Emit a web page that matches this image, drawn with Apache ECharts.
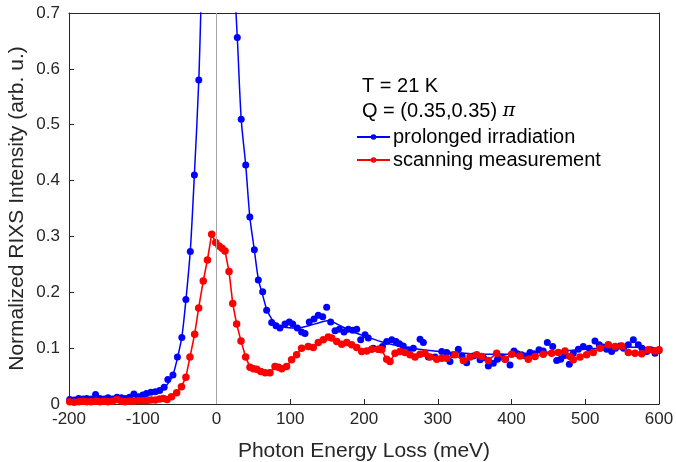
<!DOCTYPE html>
<html>
<head>
<meta charset="utf-8">
<script src="https://cdn.jsdelivr.net/npm/echarts@6/dist/echarts.min.js"></script>
<style>
  html, body { margin: 0; padding: 0; background: #fff; }
  #chart { width: 676px; height: 462px; }
</style>
</head>
<body>
<div id="chart"></div>
<script>
// RIXS spectra, x in meV, y normalized intensity
const xTicks = { min: -200, max: 600, step: 100 };
const yTicks = { min: 0, max: 0.7, step: 0.1 };

// prolonged irradiation: measured points
const bluePoints = [
  [-199, 0.008], [-193, 0.007], [-187, 0.010], [-181, 0.009], [-176, 0.010], [-170, 0.009],
  [-164, 0.017], [-158, 0.010], [-152, 0.009], [-147, 0.011], [-141, 0.009], [-135, 0.012],
  [-129, 0.011], [-124, 0.010], [-118, 0.012], [-112, 0.018], [-106, 0.013], [-100, 0.016],
  [-95, 0.019], [-89, 0.021], [-83, 0.022], [-77, 0.024], [-71, 0.030], [-66, 0.044],
  [-59, 0.052], [-53, 0.084], [-47, 0.119], [-41.5, 0.187], [-35.5, 0.273], [-30, 0.41],
  [-24, 0.58], [-18.3, 0.83], [-12.5, 0.95], [-6.7, 1.0], [-0.9, 1.0], [4.9, 0.98],
  [10.7, 0.93], [16.5, 0.87], [22.4, 0.79], [28.2, 0.656], [33.5, 0.51], [39.6, 0.428],
  [45.2, 0.335], [51.3, 0.276], [56.7, 0.222], [62.6, 0.201], [68, 0.168], [74.8, 0.146],
  [80.7, 0.14], [86.1, 0.136], [92.9, 0.143], [98.7, 0.147], [103.3, 0.143], [109.6, 0.136],
  [115.4, 0.129], [120, 0.126], [125.8, 0.147], [132.2, 0.152], [138, 0.159], [144, 0.156],
  [149.4, 0.173], [154.8, 0.147], [160.7, 0.131], [166.5, 0.134], [172.9, 0.129], [178.7, 0.134],
  [184.7, 0.132], [190.1, 0.134], [195.5, 0.115], [201.4, 0.124], [205.8, 0.118], [212.6, 0.1],
  [219.4, 0.098], [225, 0.103], [230.8, 0.112], [237.6, 0.115], [243.4, 0.112], [248, 0.108],
  [253.3, 0.104], [260.1, 0.097], [266.9, 0.1], [276, 0.116], [280.5, 0.11], [287.3, 0.084],
  [296.3, 0.084], [305.4, 0.094], [312.2, 0.092], [316.6, 0.076], [321, 0.088], [327.9, 0.098],
  [333, 0.086], [339.2, 0.074], [348.2, 0.086], [357.3, 0.079], [362, 0.083], [368.6, 0.068],
  [375.4, 0.073], [381, 0.08], [386.7, 0.084], [392, 0.08], [398, 0.07], [403.4, 0.095],
  [408, 0.09], [413.8, 0.088], [419, 0.086], [425.1, 0.092], [431, 0.09], [437.3, 0.097],
  [443, 0.095], [448.6, 0.11], [455.9, 0.103], [461.3, 0.078], [466.7, 0.08], [472, 0.087],
  [478.4, 0.071], [483.8, 0.091], [490.6, 0.098], [497.3, 0.103], [505.5, 0.1], [513.2, 0.113],
  [519, 0.106], [524, 0.102], [529, 0.098], [535.8, 0.094], [541, 0.1], [547.1, 0.104],
  [552, 0.1], [558.4, 0.106], [565.2, 0.115], [572, 0.106], [577, 0.1], [583.3, 0.094],
  [589, 0.097], [594.6, 0.091], [600, 0.096]
];

// prolonged irradiation: fitted curve
const blueFit = [
  [-200, 0.007], [-170, 0.009], [-140, 0.011], [-110, 0.014], [-90, 0.018], [-78, 0.023],
  [-70, 0.03], [-64, 0.04], [-59, 0.052], [-53, 0.082], [-47, 0.12], [-41.5, 0.186],
  [-35.5, 0.275], [-30, 0.41], [-24, 0.58], [-18.3, 0.83], [-12.5, 0.95], [-6.7, 1.0],
  [-0.9, 1.0], [4.9, 0.98], [10.7, 0.93], [16.5, 0.87], [22.4, 0.79], [28.2, 0.656],
  [33.5, 0.51], [39.6, 0.428], [45.2, 0.335], [51.3, 0.276], [56.7, 0.224], [62.6, 0.195],
  [68, 0.17], [75, 0.152], [85, 0.14], [95, 0.137], [110, 0.136], [125, 0.14],
  [140, 0.146], [152, 0.149], [165, 0.142], [180, 0.132], [200, 0.122], [225, 0.111],
  [250, 0.103], [280, 0.097], [320, 0.092], [360, 0.089], [400, 0.089], [450, 0.093],
  [500, 0.098], [550, 0.102], [600, 0.1]
];

// scanning measurement
const redPoints = [
  [-199, 0.004], [-193, 0.003], [-187, 0.004], [-181, 0.005], [-176, 0.004], [-170, 0.004],
  [-164, 0.005], [-158, 0.004], [-152, 0.005], [-147, 0.004], [-141, 0.005], [-135, 0.008],
  [-129, 0.005], [-124, 0.004], [-118, 0.005], [-112, 0.005], [-106, 0.006], [-100, 0.006],
  [-95, 0.006], [-89, 0.007], [-83, 0.007], [-77, 0.009], [-72, 0.010], [-67, 0.008],
  [-61, 0.013], [-54, 0.02], [-47.5, 0.031], [-41.5, 0.048], [-36, 0.084], [-29.6, 0.125],
  [-24.2, 0.172], [-18, 0.22], [-12.3, 0.258], [-6.5, 0.304], [-1.1, 0.289], [3.4, 0.283],
  [7.5, 0.279], [11.5, 0.274], [17, 0.237], [22, 0.18], [27.3, 0.143], [33.2, 0.113],
  [39.5, 0.084], [45.4, 0.066], [50, 0.063], [54.5, 0.062], [60, 0.058], [66, 0.056],
  [72.5, 0.056], [79.3, 0.067], [84, 0.066], [88.4, 0.063], [95, 0.067], [101.8, 0.079],
  [108.6, 0.088], [115.4, 0.1], [124.4, 0.103], [131.2, 0.101], [138, 0.11], [144.8, 0.115],
  [151.6, 0.12], [156.2, 0.118], [163, 0.112], [169.8, 0.107], [176.6, 0.11], [183.3, 0.106],
  [190.1, 0.101], [196.9, 0.094], [203.7, 0.095], [210.4, 0.098], [219.4, 0.098], [224, 0.097],
  [230.8, 0.08], [235.3, 0.076], [242.1, 0.091], [248.8, 0.094], [255.6, 0.092], [262.4, 0.088],
  [269.2, 0.084], [276, 0.089], [282.7, 0.091], [289.5, 0.084], [298.6, 0.08], [305.4, 0.082],
  [312, 0.082], [323.4, 0.088], [334.7, 0.078], [343.7, 0.084], [352.8, 0.088], [359.6, 0.085],
  [368.6, 0.078], [379.9, 0.091], [391.2, 0.08], [400.2, 0.089], [411.5, 0.086], [422.8, 0.08],
  [431.9, 0.085], [443.1, 0.089], [454.4, 0.091], [463.5, 0.092], [472.5, 0.095], [479.3, 0.085],
  [483.8, 0.079], [492.9, 0.084], [501.9, 0.088], [510.9, 0.092], [520, 0.1], [531.3, 0.106],
  [540.3, 0.103], [549.4, 0.104], [558.4, 0.092], [567.5, 0.091], [576.5, 0.09], [585.5, 0.097],
  [594.6, 0.095], [600, 0.097]
];

const seriesNames = ['prolonged irradiation', 'scanning measurement'];
const annotation = ['T = 21 K', 'Q = (0.35,0.35) '];

const axisColor = '#262626';
const font = 'Liberation Sans, Arial, Helvetica, sans-serif';

const chart = echarts.init(document.getElementById('chart'));

const boxAxis = {
  type: 'value',
  axisLine: { show: true, onZero: false, lineStyle: { color: axisColor, width: 1 } },
  axisTick: { show: false },
  axisLabel: { show: false },
  splitLine: { show: false }
};

const option = {
  animation: false,
  backgroundColor: '#fff',
  textStyle: { fontFamily: font },
  grid: { left: 69, right: 17, top: 13, bottom: 58, containLabel: false, outerBoundsMode: 'none' },
  xAxis: [
    {
      type: 'value',
      min: xTicks.min, max: xTicks.max, interval: xTicks.step,
      name: 'Photon Energy Loss (meV)',
      nameLocation: 'middle',
      nameGap: 37,
      nameMoveOverlap: false,
      nameTextStyle: { fontSize: 21, color: axisColor, fontFamily: font },
      axisLine: { onZero: false, lineStyle: { color: axisColor, width: 1 } },
      axisTick: { inside: true, length: 5, lineStyle: { color: axisColor } },
      axisLabel: { fontSize: 17, color: axisColor, margin: 7, fontFamily: font },
      splitLine: { show: false }
    },
    Object.assign({}, boxAxis, { position: 'top', min: xTicks.min, max: xTicks.max })
  ],
  yAxis: [
    {
      type: 'value',
      min: yTicks.min, max: yTicks.max, interval: yTicks.step,
      name: 'Normalized RIXS Intensity (arb. u.)',
      nameLocation: 'middle',
      nameGap: 41,
      nameMoveOverlap: false,
      nameTextStyle: { fontSize: 21, color: axisColor, fontFamily: font },
      axisLine: { onZero: false, lineStyle: { color: axisColor, width: 1 } },
      axisTick: { inside: true, length: 5, lineStyle: { color: axisColor } },
      axisLabel: { fontSize: 17, color: axisColor, margin: 9, fontFamily: font,
        formatter: v => (Math.round(v * 10) / 10).toString() },
      splitLine: { show: false }
    },
    Object.assign({}, boxAxis, { position: 'right', min: yTicks.min, max: yTicks.max })
  ],
  legend: {
    orient: 'vertical',
    left: 356,
    top: 127,
    itemWidth: 33,
    itemHeight: 7,
    itemGap: 3,
    padding: 0,
    data: seriesNames,
    textStyle: { fontSize: 20, color: '#000', fontFamily: font, padding: [0, 0, 0, -2] }
  },
  graphic: [
    { type: 'text', left: 362, top: 76,
      style: { text: annotation[0], fontSize: 20, fontFamily: font, fill: '#000' } },
    { type: 'text', left: 362, top: 101,
      style: { text: annotation[1] + '{p|π}', fontSize: 20, fontFamily: font, fill: '#000',
        rich: { p: { fontSize: 19, fontFamily: 'DejaVu Serif', fontStyle: 'italic', fill: '#000' } } } }
  ],
  series: [
    {
      name: 'zero',
      type: 'line',
      data: [],
      markLine: {
        silent: true,
        symbol: 'none',
        label: { show: false },
        lineStyle: { color: '#a6a6a6', width: 1, type: 'solid' },
        data: [{ xAxis: 0 }]
      }
    },
    {
      name: seriesNames[0],
      type: 'line',
      data: blueFit,
      smooth: 0.3,
      symbol: 'circle',
      symbolSize: 6,
      showSymbol: false,
      color: '#0000ff',
      lineStyle: { color: '#0000ff', width: 1.5 }
    },
    {
      name: 'prolonged points',
      type: 'scatter',
      data: bluePoints,
      symbol: 'circle',
      symbolSize: 7,
      itemStyle: { color: '#0000ff', opacity: 1 }
    },
    {
      name: seriesNames[1],
      type: 'line',
      data: redPoints,
      symbol: 'circle',
      symbolSize: 7.5,
      showSymbol: true,
      color: '#ff0000',
      itemStyle: { color: '#ff0000' },
      lineStyle: { color: '#ff0000', width: 1.6 }
    }
  ]
};

chart.setOption(option);
</script>
</body>
</html>
